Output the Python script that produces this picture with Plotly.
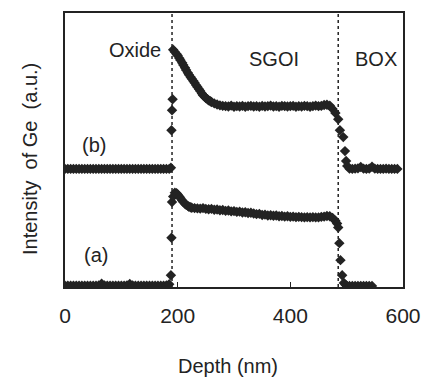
import plotly.graph_objects as go

# ---- data (depth in nm, intensity in arbitrary units 0-100) ----
depth_a = [0, 5, 10, 15, 20, 25, 30, 35, 40, 45, 50, 55, 60, 65, 70, 75, 80, 85, 90, 95,
           100, 105, 110, 115, 120, 125, 130, 135, 140, 145, 150, 155, 160, 165, 170, 175, 180, 185,
           188, 189, 190, 192, 195, 198, 200, 203, 205, 208, 210, 213, 215, 218, 220, 223, 225,
           230, 235, 240, 245, 250, 255, 260, 265, 270, 275, 280, 285, 290, 295, 300, 305, 310,
           315, 320, 325, 330, 335, 340, 345, 350, 355, 360, 365, 370, 375, 380, 385, 390, 395,
           400, 405, 410, 415, 420, 425, 430, 435, 440, 445, 450, 455, 460, 465, 470, 475, 480,
           483, 485, 487, 489, 492, 495, 498, 500, 505, 510, 515, 520, 525, 530, 535, 540, 545]
int_a = [0.5, 0.5, 0.5, 0.5, 0.5, 0.5, 0.5, 0.5, 0.5, 0.5, 0.5, 0.5, 0.6, 1.2, 0.6, 0.5, 0.5, 0.5, 0.5, 0.5,
         0.5, 0.5, 0.6, 1.1, 0.6, 0.5, 0.5, 0.5, 0.5, 0.5, 0.5, 0.5, 0.5, 0.5, 0.5, 0.5, 0.6, 1.0,
         4.3, 18.0, 31.0, 33.0, 34.4, 34.2, 33.8, 33.0, 32.4, 31.6, 31.0, 30.4, 30.0, 29.6, 29.3, 29.1, 28.9,
         28.8, 28.7, 28.6, 28.8, 28.5, 28.4, 28.5, 28.2, 28.3, 28.0, 28.1, 27.8, 27.9, 27.6, 27.7, 27.4, 27.5,
         27.2, 27.3, 27.0, 27.1, 26.8, 26.6, 26.7, 26.3, 26.4, 26.1, 26.2, 26.0, 26.1, 25.8, 25.9, 25.7, 25.8,
         25.6, 25.7, 25.5, 25.6, 25.5, 25.4, 25.5, 25.4, 25.5, 25.4, 25.4, 25.6, 25.7, 25.9, 25.8, 25.2, 24.2,
         23.2, 21.7, 16.0, 9.8, 4.3, 1.5, 0.8, 0.5, 0.4, 0.4, 0.4, 0.4, 0.4, 0.4, 0.4, 0.4, 0.4]

depth_b = [0, 5, 10, 15, 20, 25, 30, 35, 40, 45, 50, 55, 60, 65, 70, 75, 80, 85, 90, 95,
           100, 105, 110, 115, 120, 125, 130, 135, 140, 145, 150, 155, 160, 165, 170, 175, 180, 185,
           188, 189, 190, 191, 192, 195, 198, 200, 203, 205, 208, 210, 213, 215, 218, 220, 223, 225,
           228, 230, 233, 235, 238, 240, 243, 245, 248, 250, 253, 255, 258, 260, 265, 270, 275, 280,
           285, 290, 295, 300, 305, 310, 315, 320, 325, 330, 335, 340, 345, 350, 355, 360, 365, 370,
           375, 380, 385, 390, 395, 400, 405, 410, 415, 420, 425, 430, 435, 440, 445, 450, 455, 460,
           465, 470, 475, 480, 485, 488, 494, 497, 499, 501, 505, 510, 515, 520, 525, 530, 535, 540,
           545, 550, 555, 560, 565, 570, 575, 580, 585, 590]
int_b = [43.1, 43.1, 43.1, 43.1, 43.1, 43.1, 43.1, 43.1, 43.1, 43.1, 43.1, 43.1, 43.1, 43.1, 43.1, 43.1,
         43.1, 43.1, 43.1, 43.1, 43.1, 43.1, 43.1, 43.1, 43.1, 43.1, 43.1, 43.1, 43.1, 43.1, 43.1, 43.1,
         43.1, 43.1, 43.1, 43.1, 43.1, 43.1,
         43.5, 57.2, 64.5, 68.5, 86.6, 85.8, 85.0, 84.5, 83.5, 82.8, 81.8, 81.0, 80.0, 79.2, 78.2, 77.5, 76.6, 76.0,
         75.2, 74.5, 73.6, 73.0, 72.2, 71.5, 70.6, 70.0, 69.4, 69.0, 68.5, 68.1, 67.8, 67.5, 67.0, 66.6, 66.3, 66.1,
         66.0, 65.9, 66.2, 65.8, 66.0, 65.9, 66.1, 65.8, 66.0, 66.1, 65.9, 66.0, 65.8, 66.1, 65.9, 66.0, 66.2, 65.9,
         66.0, 65.8, 66.1, 66.0, 65.9, 66.0, 66.1, 65.8, 66.0, 65.9, 66.1, 66.0, 65.8, 66.0, 66.2, 66.0, 66.1, 66.4,
         66.5, 66.2, 65.0, 63.5, 61.2, 57.2, 54.7, 49.6, 46.0, 44.2, 43.2, 43.1, 43.2, 43.3, 43.8, 43.2, 43.1, 43.2,
         43.9, 43.2, 43.1, 43.1, 43.1, 43.2, 43.1, 43.1, 43.1, 43.1]

interfaces = [190, 485]
region_labels = ["Oxide", "SGOI", "BOX"]
region_x = [174, 371, 552]
region_y = [86.5, 83.3, 83.3]
curve_labels = ["(b)", "(a)"]
curve_label_x = [52, 55]
curve_label_y = [51.8, 11.8]
x_ticks = [0, 200, 400, 600]
y_title = "Intensity\u00a0\u00a0of Ge\u00a0\u00a0(a.u.)"

ink = "#232323"
font_family = "Liberation Sans, Arial, sans-serif"

fig = go.Figure()
for xs, ys in [(depth_a, int_a), (depth_b, int_b)]:
    fig.add_trace(go.Scatter(
        x=xs, y=ys, mode="markers",
        marker=dict(symbol="diamond", size=8, color=ink),
        showlegend=False, hoverinfo="skip", cliponaxis=True))

for xv in interfaces:
    fig.add_shape(type="line", xref="x", yref="paper", x0=xv, x1=xv, y0=0, y1=1,
                  line=dict(color=ink, width=1.5, dash="dot"))

fig.add_annotation(x=region_x[0], y=region_y[0], text=region_labels[0], showarrow=False,
                   xanchor="right", font=dict(size=20, color=ink, family=font_family))
for lbl, xv, yv in zip(region_labels[1:], region_x[1:], region_y[1:]):
    fig.add_annotation(x=xv, y=yv, text=lbl, showarrow=False, xanchor="center",
                       font=dict(size=20, color=ink, family=font_family))
for lbl, xv, yv in zip(curve_labels, curve_label_x, curve_label_y):
    fig.add_annotation(x=xv, y=yv, text=lbl, showarrow=False, xanchor="center",
                       font=dict(size=20, color=ink, family=font_family))

fig.add_annotation(xref="paper", yref="paper", x=-0.1036, y=0.467, text=y_title,
                   textangle=-90, showarrow=False, xanchor="center", yanchor="middle",
                   font=dict(size=20, color=ink, family=font_family))
fig.add_annotation(xref="paper", yref="paper", x=0.482, y=-0.29, text="Depth (nm)",
                   showarrow=False, xanchor="center", yanchor="middle",
                   font=dict(size=20, color=ink, family=font_family))

fig.update_layout(
    width=434, height=377,
    margin=dict(l=57, r=39, t=3, b=98),
    paper_bgcolor="white", plot_bgcolor="white",
    font=dict(family=font_family, color=ink),
    xaxis=dict(range=[0, 600], tickvals=x_ticks, ticks="inside", ticklen=5, tickwidth=1,
               tickcolor=ink, showline=True, linecolor=ink, linewidth=2, mirror=True,
               showgrid=False, zeroline=False, tickfont=dict(size=21, color=ink),
               ticklabelstandoff=9),
    yaxis=dict(range=[0, 100], showticklabels=False, ticks="", showline=True, linecolor=ink,
               linewidth=2, mirror=True, showgrid=False, zeroline=False),
)

fig.write_html("out.html")
